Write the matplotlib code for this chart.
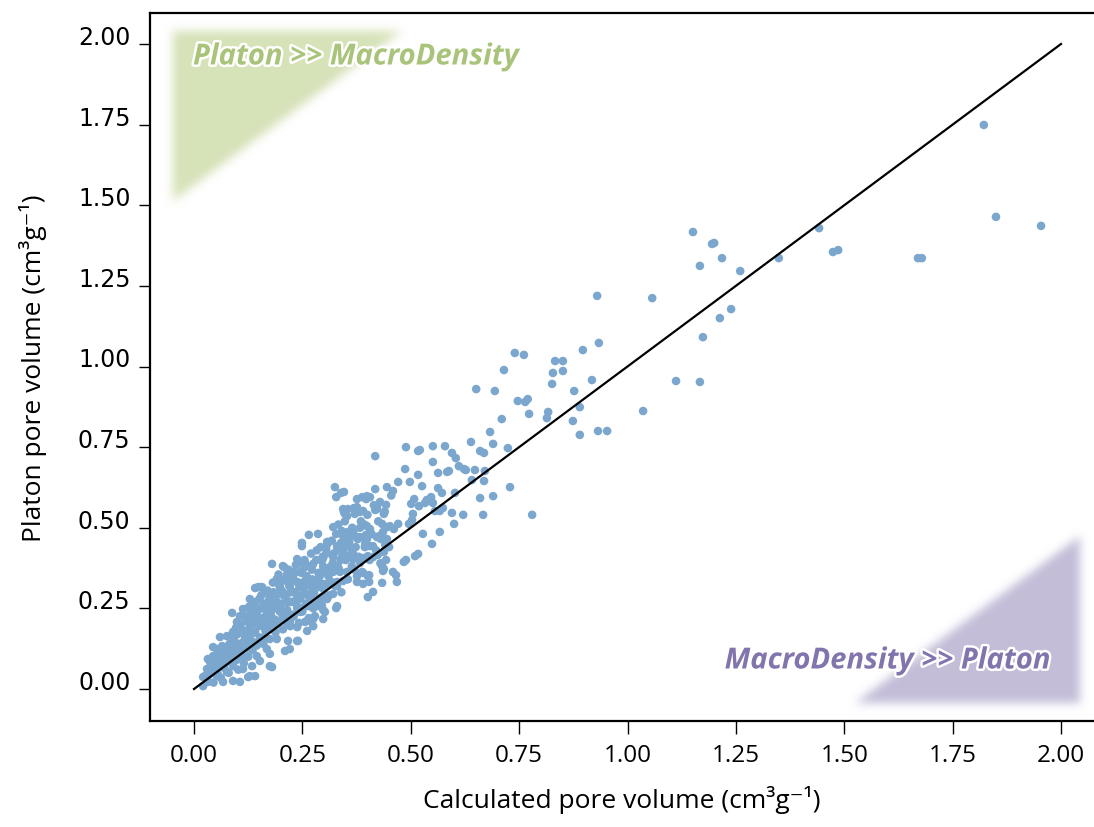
import numpy as np
import matplotlib
matplotlib.use("Agg")
import matplotlib.pyplot as plt
import matplotlib.patheffects as pe

# ---------------- data ----------------
x_high = [1.822, 1.850, 1.954, 1.670, 1.679, 1.474, 1.486, 1.442, 1.349, 1.260, 1.218,
          1.167, 1.151, 1.195, 1.200, 1.239, 1.213, 1.174, 1.167, 1.112, 1.036, 1.057,
          0.930, 0.934, 0.897, 0.918, 0.890, 0.890, 0.932, 0.953]
y_high = [1.749, 1.464, 1.436, 1.336, 1.336, 1.355, 1.361, 1.429, 1.336, 1.296, 1.336,
          1.312, 1.417, 1.380, 1.383, 1.178, 1.150, 1.091, 0.952, 0.955, 0.862, 1.212,
          1.219, 1.073, 1.051, 0.958, 0.874, 0.788, 0.800, 0.800]

x_mid = [0.740, 0.761, 0.715, 0.651, 0.694, 0.747, 0.764, 0.770, 0.773, 0.710, 0.683,
         0.639, 0.690, 0.724, 0.660, 0.669, 0.595, 0.604, 0.551, 0.579, 0.521, 0.551,
         0.563, 0.584, 0.588, 0.611, 0.623, 0.627, 0.648, 0.671, 0.641, 0.669, 0.526,
         0.563, 0.572, 0.602, 0.547, 0.551, 0.537, 0.533, 0.574, 0.556, 0.567, 0.660,
         0.690, 0.729, 0.595, 0.621, 0.667, 0.780, 0.600, 0.567, 0.528, 0.549, 0.833,
         0.851, 0.828, 0.851, 0.826, 0.877, 0.817, 0.814, 0.874]
y_mid = [1.042, 1.036, 0.989, 0.930, 0.924, 0.893, 0.890, 0.899, 0.853, 0.837, 0.797,
         0.766, 0.760, 0.747, 0.738, 0.732, 0.732, 0.716, 0.753, 0.753, 0.741, 0.704,
         0.670, 0.673, 0.676, 0.691, 0.682, 0.679, 0.679, 0.676, 0.648, 0.645, 0.629,
         0.623, 0.608, 0.608, 0.595, 0.577, 0.586, 0.577, 0.561, 0.552, 0.552, 0.592,
         0.598, 0.626, 0.546, 0.540, 0.540, 0.540, 0.512, 0.487, 0.481, 0.450, 1.017,
         1.017, 0.980, 0.986, 0.946, 0.924, 0.859, 0.840, 0.831]

x_low = [0.418, 0.489, 0.517, 0.487, 0.517, 0.498, 0.471, 0.445, 0.459, 0.418, 0.399,
         0.325, 0.339, 0.346, 0.501, 0.508, 0.519, 0.429, 0.443, 0.422, 0.418, 0.397,
         0.406, 0.388, 0.376, 0.369, 0.355, 0.346, 0.376, 0.383, 0.353, 0.438, 0.471,
         0.461, 0.452, 0.445, 0.496, 0.503, 0.505, 0.321, 0.341, 0.355, 0.344, 0.399,
         0.406, 0.397, 0.381, 0.427, 0.431, 0.445, 0.436, 0.286, 0.265, 0.307, 0.249,
         0.249, 0.339, 0.344, 0.358, 0.406, 0.441, 0.401, 0.424, 0.438, 0.443, 0.517,
         0.510, 0.489, 0.484, 0.438, 0.436, 0.404, 0.388, 0.376, 0.404, 0.434, 0.468,
         0.466, 0.459, 0.413, 0.401, 0.328, 0.298, 0.279, 0.275, 0.256, 0.215, 0.208,
         0.238, 0.249, 0.275, 0.295, 0.314, 0.321, 0.332, 0.341, 0.353, 0.367, 0.383,
         0.364, 0.353, 0.344, 0.330, 0.314, 0.298, 0.284, 0.268, 0.256, 0.238, 0.228,
         0.215, 0.221, 0.245, 0.275, 0.298, 0.307, 0.263, 0.238, 0.215, 0.205, 0.228,
         0.245, 0.221]
y_low = [0.722, 0.750, 0.738, 0.682, 0.664, 0.642, 0.642, 0.626, 0.614, 0.620, 0.598,
         0.626, 0.608, 0.611, 0.574, 0.589, 0.567, 0.580, 0.571, 0.564, 0.555, 0.589,
         0.595, 0.595, 0.589, 0.561, 0.558, 0.549, 0.549, 0.549, 0.536, 0.543, 0.512,
         0.496, 0.505, 0.502, 0.512, 0.524, 0.543, 0.502, 0.490, 0.487, 0.474, 0.505,
         0.496, 0.478, 0.471, 0.474, 0.465, 0.465, 0.487, 0.481, 0.478, 0.456, 0.453,
         0.443, 0.453, 0.428, 0.456, 0.443, 0.447, 0.412, 0.416, 0.425, 0.400, 0.419,
         0.412, 0.400, 0.394, 0.372, 0.366, 0.353, 0.363, 0.332, 0.332, 0.329, 0.332,
         0.353, 0.363, 0.301, 0.285, 0.251, 0.245, 0.226, 0.217, 0.208, 0.202, 0.378,
         0.403, 0.391, 0.388, 0.397, 0.378, 0.363, 0.381, 0.409, 0.412, 0.419, 0.391,
         0.381, 0.363, 0.335, 0.319, 0.335, 0.326, 0.335, 0.319, 0.335, 0.332, 0.363,
         0.357, 0.319, 0.288, 0.279, 0.288, 0.279, 0.257, 0.257, 0.270, 0.226, 0.226,
         0.239, 0.208]

x_dense = [0.328, 0.344, 0.376, 0.390, 0.348, 0.371, 0.422, 0.328, 0.378, 0.399, 0.434,
           0.422, 0.351, 0.330, 0.305, 0.394, 0.413, 0.180, 0.256, 0.272, 0.298, 0.321,
           0.367, 0.390, 0.413, 0.434, 0.401, 0.376, 0.390, 0.141, 0.152, 0.175, 0.198,
           0.191, 0.228, 0.245, 0.261, 0.286, 0.295, 0.314, 0.337, 0.353, 0.330, 0.307,
           0.275, 0.256, 0.228, 0.205, 0.191, 0.221, 0.268, 0.295, 0.321, 0.330, 0.302,
           0.275, 0.238, 0.240, 0.217, 0.210, 0.180, 0.175, 0.152, 0.129, 0.118, 0.106,
           0.088, 0.106, 0.125, 0.145, 0.159, 0.134, 0.113, 0.099, 0.090, 0.076, 0.065,
           0.053, 0.044, 0.037, 0.030, 0.025, 0.032, 0.021, 0.067, 0.083, 0.099, 0.111,
           0.090, 0.076, 0.125, 0.106, 0.067, 0.053, 0.060, 0.148, 0.164, 0.182, 0.194,
           0.210, 0.175, 0.159, 0.141, 0.125, 0.191, 0.168, 0.145, 0.134, 0.113, 0.141,
           0.048, 0.205, 0.221, 0.148, 0.157, 0.129, 0.168, 0.191, 0.060, 0.044, 0.032,
           0.021, 0.175, 0.129, 0.090, 0.261, 0.238, 0.221, 0.261, 0.298, 0.284]
y_dense = [0.595, 0.558, 0.564, 0.552, 0.543, 0.543, 0.558, 0.481, 0.465, 0.465, 0.512,
           0.471, 0.465, 0.443, 0.434, 0.440, 0.443, 0.388, 0.391, 0.381, 0.406, 0.409,
           0.403, 0.406, 0.409, 0.381, 0.350, 0.350, 0.326, 0.313, 0.316, 0.285, 0.319,
           0.341, 0.341, 0.363, 0.332, 0.341, 0.363, 0.372, 0.363, 0.341, 0.332, 0.326,
           0.304, 0.295, 0.301, 0.301, 0.270, 0.270, 0.270, 0.285, 0.295, 0.257, 0.239,
           0.195, 0.192, 0.149, 0.149, 0.118, 0.068, 0.109, 0.087, 0.146, 0.164, 0.195,
           0.236, 0.226, 0.217, 0.239, 0.257, 0.257, 0.248, 0.208, 0.177, 0.164, 0.133,
           0.124, 0.102, 0.084, 0.062, 0.040, 0.022, 0.009, 0.102, 0.124, 0.133, 0.102,
           0.071, 0.053, 0.037, 0.022, 0.022, 0.040, 0.071, 0.146, 0.161, 0.186, 0.208,
           0.226, 0.208, 0.195, 0.177, 0.164, 0.155, 0.124, 0.102, 0.071, 0.062, 0.040,
           0.062, 0.381, 0.357, 0.316, 0.316, 0.279, 0.304, 0.332, 0.161, 0.130, 0.093,
           0.037, 0.071, 0.040, 0.025, 0.180, 0.149, 0.124, 0.211, 0.217, 0.257]

x_core = [0.030, 0.040, 0.045, 0.050, 0.055, 0.060, 0.062, 0.070, 0.072, 0.075, 0.080,
          0.082, 0.085, 0.090, 0.092, 0.095, 0.098, 0.100, 0.102, 0.105, 0.108, 0.110,
          0.115, 0.118, 0.120, 0.122, 0.125, 0.128, 0.130, 0.132, 0.135, 0.138, 0.140,
          0.142, 0.145, 0.148, 0.150, 0.152, 0.155, 0.158, 0.160, 0.162, 0.165, 0.168,
          0.170, 0.172, 0.175, 0.178, 0.180, 0.182, 0.185, 0.188, 0.190, 0.192, 0.195,
          0.198, 0.200, 0.202, 0.205, 0.208, 0.210, 0.212, 0.215, 0.218, 0.220, 0.222,
          0.225, 0.228, 0.230, 0.232, 0.235, 0.238, 0.240, 0.242, 0.245, 0.248, 0.250,
          0.252, 0.255, 0.258, 0.260, 0.265, 0.268, 0.270, 0.272, 0.275, 0.280, 0.282,
          0.285, 0.290, 0.292, 0.295, 0.298, 0.300, 0.305, 0.310, 0.312, 0.318, 0.320,
          0.325, 0.330, 0.335, 0.340, 0.345, 0.350, 0.355, 0.360, 0.365, 0.370, 0.375,
          0.380, 0.385, 0.390, 0.395, 0.400, 0.405, 0.410, 0.415, 0.420, 0.425, 0.430,
          0.440, 0.450, 0.455]
y_core = [0.030, 0.060, 0.020, 0.080, 0.045, 0.100, 0.035, 0.065, 0.120, 0.090, 0.050,
          0.140, 0.105, 0.075, 0.155, 0.125, 0.090, 0.170, 0.060, 0.140, 0.110, 0.185,
          0.080, 0.160, 0.210, 0.125, 0.100, 0.190, 0.235, 0.150, 0.120, 0.215, 0.175,
          0.270, 0.135, 0.245, 0.195, 0.160, 0.290, 0.220, 0.140, 0.265, 0.180, 0.235,
          0.305, 0.200, 0.155, 0.270, 0.220, 0.330, 0.250, 0.175, 0.290, 0.200, 0.355,
          0.240, 0.310, 0.265, 0.185, 0.340, 0.215, 0.290, 0.245, 0.370, 0.320, 0.195,
          0.270, 0.345, 0.225, 0.300, 0.385, 0.250, 0.330, 0.205, 0.280, 0.360, 0.240,
          0.310, 0.400, 0.265, 0.350, 0.220, 0.295, 0.420, 0.370, 0.250, 0.320, 0.400,
          0.280, 0.350, 0.440, 0.260, 0.380, 0.310, 0.420, 0.350, 0.290, 0.460, 0.390,
          0.320, 0.430, 0.370, 0.300, 0.480, 0.400, 0.340, 0.440, 0.500, 0.370, 0.470,
          0.410, 0.520, 0.360, 0.450, 0.540, 0.400, 0.480, 0.570, 0.430, 0.520, 0.390,
          0.550, 0.440, 0.600]

x_core2 = [0.035, 0.042, 0.052, 0.058, 0.065, 0.068, 0.078, 0.083, 0.088, 0.094,
           0.097, 0.104, 0.107, 0.113, 0.117, 0.121, 0.124, 0.127, 0.133, 0.137,
           0.143, 0.147, 0.151, 0.154, 0.157, 0.163, 0.167, 0.171, 0.174, 0.177,
           0.183, 0.187, 0.193, 0.197, 0.203, 0.207, 0.213, 0.217, 0.223, 0.227,
           0.233, 0.237, 0.243, 0.247, 0.253, 0.257, 0.263, 0.267, 0.273, 0.277,
           0.283, 0.287, 0.293, 0.297, 0.303, 0.308, 0.315, 0.322, 0.328, 0.333,
           0.338, 0.343, 0.348, 0.358, 0.363, 0.368, 0.373, 0.383, 0.388, 0.393]
y_core2 = [0.045, 0.085, 0.065, 0.115, 0.080, 0.130, 0.105, 0.085, 0.135, 0.110,
           0.190, 0.125, 0.200, 0.145, 0.225, 0.170, 0.140, 0.255, 0.200, 0.175,
           0.230, 0.215, 0.280, 0.250, 0.205, 0.300, 0.215, 0.255, 0.280, 0.235,
           0.300, 0.215, 0.265, 0.320, 0.245, 0.290, 0.335, 0.270, 0.300, 0.230,
           0.360, 0.280, 0.315, 0.250, 0.375, 0.330, 0.290, 0.380, 0.340, 0.300,
           0.430, 0.360, 0.315, 0.410, 0.370, 0.450, 0.330, 0.420, 0.370, 0.510,
           0.400, 0.445, 0.520, 0.470, 0.420, 0.490, 0.440, 0.500, 0.470, 0.510]

parity_x = [0.0, 2.0]
parity_y = [0.0, 2.0]

xticks = [0.00, 0.25, 0.50, 0.75, 1.00, 1.25, 1.50, 1.75, 2.00]
yticks = [0.00, 0.25, 0.50, 0.75, 1.00, 1.25, 1.50, 1.75, 2.00]
tick_labels = ["0.00", "0.25", "0.50", "0.75", "1.00", "1.25", "1.50", "1.75", "2.00"]

FAM = ["Open Sans", "DejaVu Sans"]

# ---------------- figure ----------------
W, H = 1094, 828
fig = plt.figure(figsize=(W / 100, H / 100), dpi=100)
ax_l, ax_t, ax_r, ax_b = 150, 14, 1094, 722
ax = fig.add_axes([ax_l / W, 1 - ax_b / H, (ax_r - ax_l) / W, (ax_b - ax_t) / H])

# blurred triangles (background decoration) in axes-pixel space
aw, ah = ax_r - ax_l, ax_b - ax_t
yy, xx = np.mgrid[0:ah, 0:aw] + 0.5


def tri_mask(p):
    (x1, y1), (x2, y2), (x3, y3) = p
    d1 = (xx - x2) * (y1 - y2) - (x1 - x2) * (yy - y2)
    d2 = (xx - x3) * (y2 - y3) - (x2 - x3) * (yy - y3)
    d3 = (xx - x1) * (y3 - y1) - (x3 - x1) * (yy - y1)
    neg = (d1 < 0) | (d2 < 0) | (d3 < 0)
    pos = (d1 > 0) | (d2 > 0) | (d3 > 0)
    return (~(neg & pos)).astype(float)


def blur(a, r=5, n=3):
    k = np.ones(2 * r + 1) / (2 * r + 1)
    for _ in range(n):
        a = np.apply_along_axis(lambda m: np.convolve(m, k, mode="same"), 0, a)
        a = np.apply_along_axis(lambda m: np.convolve(m, k, mode="same"), 1, a)
    return a


green = blur(tri_mask([(23, 18), (252, 18), (23, 188)]), 4, 3)
purple = blur(tri_mask([(930, 523), (930, 690), (705, 690)]), 4, 3)
img = np.zeros((ah, aw, 4))
gc = np.array([214, 226, 184]) / 255
pc = np.array([195, 189, 216]) / 255
alpha = np.clip(green + purple, 0, 1)
wg = np.where(alpha > 0, green / np.maximum(green + purple, 1e-9), 0)
img[..., :3] = wg[..., None] * gc + (1 - wg[..., None]) * pc
img[..., 3] = alpha
ax.imshow(img, extent=[0, 1, 0, 1], transform=ax.transAxes, aspect="auto",
          interpolation="bilinear", zorder=0)

pt_color = "#7BA7CE"
xs = x_high + x_mid + x_low + x_dense + x_core + x_core2
ys = y_high + y_mid + y_low + y_dense + y_core + y_core2
ax.scatter(xs, ys, s=38, color=pt_color, edgecolors="none", zorder=2)
ax.plot(parity_x, parity_y, color="black", lw=1.6, zorder=3)

ax.set_xlim((ax_l - 194) / 433.5, (ax_r - 194) / 433.5)
ax.set_ylim((690 - ax_b) / 322.5, (690 - ax_t) / 322.5)

for s in ["top", "left", "bottom"]:
    ax.spines[s].set_linewidth(1.6)
    ax.spines[s].set_color("black")
ax.spines["right"].set_visible(False)

ax.set_xticks(xticks)
ax.set_xticklabels(tick_labels, fontsize=17.5, family=FAM)
ax.set_yticks(yticks)
ax.set_yticklabels(tick_labels, fontsize=17, family=["DejaVu Sans"])
ax.tick_params(axis="x", length=9, width=1.0, pad=7, direction="out")
ax.tick_params(axis="y", length=8, width=1.0, pad=6, direction="out")
for lab in ax.get_yticklabels():
    lab.set_va("baseline")

ax.set_xlabel("Calculated pore volume (cm\u00b3g\u207b\u00b9)", fontsize=19,
              family=FAM, labelpad=13)
ax.set_ylabel("Platon pore volume (cm\u00b3g\u207b\u00b9)", fontsize=19,
              family=FAM, labelpad=22)

stroke = [pe.withStroke(linewidth=3.5, foreground="white")]
fig.text(193 / W, 1 - 58 / H, "Platon >> MacroDensity", fontsize=21, fontweight="bold",
         style="italic", color="#A9C47A", ha="left", va="center",
         family=FAM, path_effects=stroke)
fig.text(1050 / W, 1 - 662 / H, "MacroDensity >> Platon", fontsize=21, fontweight="bold",
         style="italic", color="#8274AC", ha="right", va="center",
         family=FAM, path_effects=stroke)

fig.savefig("out.png", dpi=100)
